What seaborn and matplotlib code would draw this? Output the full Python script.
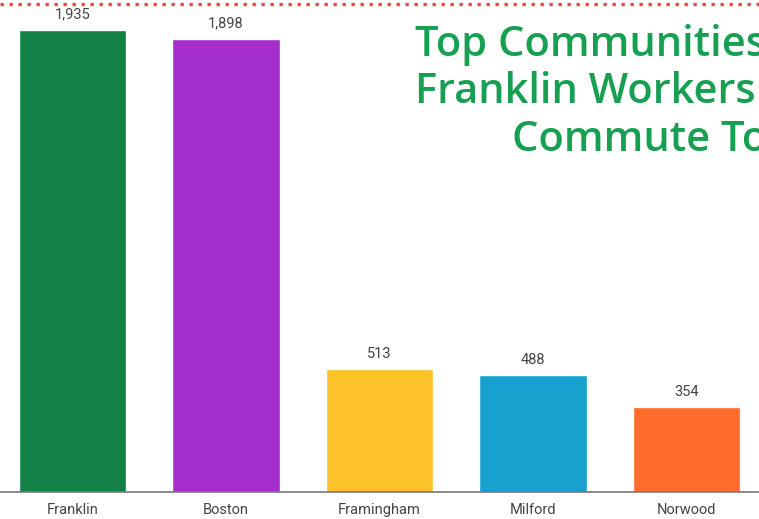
import matplotlib
matplotlib.use("Agg")
import matplotlib.pyplot as plt
import seaborn as sns
from matplotlib.lines import Line2D

towns = ["Franklin", "Boston", "Framingham", "Milford", "Norwood"]
workers = [1935, 1898, 513, 488, 354]
bar_colors = ["#138046", "#a52fcc", "#fdc12a", "#18a0cf", "#ff6c2c"]
title_lines = ["Top Communities", "Franklin Workers", "Commute To"]

sns.set_theme(style="white")
plt.rcParams["font.family"] = ["Roboto", "DejaVu Sans"]

fig = plt.figure(figsize=(7.59, 5.19), dpi=100)
ax = fig.add_axes([0, 27 / 519, 1, 492 / 519])

sns.barplot(x=towns, y=workers, hue=towns, palette=bar_colors, width=0.7,
            legend=False, ax=ax, saturation=1)
for cont in ax.containers:
    ax.bar_label(cont, labels=[f"{v:,.0f}" for v in cont.datavalues],
                 padding=6, fontsize=10.5, color="#444444")

ax.set_xlim(-0.472, 4.472)
ax.set_ylim(0, 2060)
ax.set(xlabel="", ylabel="", yticks=[])
ax.tick_params(axis="x", length=0, labelsize=10.5, labelcolor="#444444", pad=8)
for side in ["top", "left", "right"]:
    ax.spines[side].set_visible(False)
ax.spines["bottom"].set_color("#777777")
ax.spines["bottom"].set_linewidth(1.2)

# dotted red border at the top
fig.add_artist(Line2D([0, 1], [1 - 4 / 519, 1 - 4 / 519], transform=fig.transFigure,
                      color="#e8474a", linewidth=2.4, dashes=(1, 1.7),
                      dash_capstyle="butt"))

title_x = [415, 415, 512]
title_y = [45, 92, 140]
for line, tx, ty in zip(title_lines, title_x, title_y):
    fig.text(tx / 759, 1 - ty / 519, line, ha="left", va="center",
             fontsize=30, color="#17a052", fontweight="semibold",
             family=["Open Sans", "DejaVu Sans"])

fig.savefig("out.png", dpi=100)
